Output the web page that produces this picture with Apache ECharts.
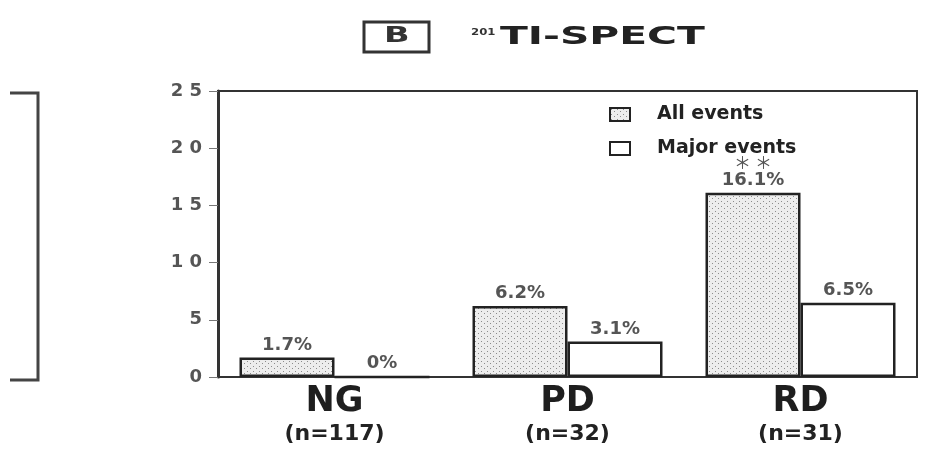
<!DOCTYPE html>
<html><head><meta charset="utf-8">
<script src="https://cdn.jsdelivr.net/npm/echarts@6/dist/echarts.min.js"></script>
<style>html,body{margin:0;padding:0;background:#fff}#c{width:934px;height:452px}</style>
</head><body><div id="c"></div>
<script>
const categories = ['NG', 'PD', 'RD'];
const sampleSizes = ['(n=117)', '(n=32)', '(n=31)'];
const allEvents = [1.7, 6.2, 16.1];
const majorEvents = [0, 3.1, 6.5];
const allLabels = ['1.7%', '6.2%', '16.1%'];
const majorLabels = ['0%', '3.1%', '6.5%'];
const significance = ['', '', '＊ ＊'];
const yTicks = [0, 5, 10, 15, 20, 25];

const pc = document.createElement('canvas');
pc.width = 6; pc.height = 5;
const g = pc.getContext('2d');
g.fillStyle = '#ededed'; g.fillRect(0, 0, 6, 5);
g.fillStyle = '#8c8c8c';
g.fillRect(1, 1, 1, 1); g.fillRect(4, 3, 1, 1);
const dotted = { image: pc, repeat: 'repeat' };

const chart = echarts.init(document.getElementById('c'));
const font = '"DejaVu Sans", Arial, sans-serif';
chart.setOption({
  animation: false,
  textStyle: { fontFamily: font },
  graphic: [
    { type: 'rect', shape: { x: 364, y: 22, width: 65, height: 30 }, style: { fill: 'none', stroke: '#333', lineWidth: 3 } },
    { type: 'text', x: 384, y: 37, scaleX: 1.6, style: { text: 'B', font: 'bold 21px ' + font, fill: '#333', align: 'left', verticalAlign: 'middle' } },
    { type: 'text', x: 471, y: 33, scaleX: 1.3, style: { text: '201', font: 'bold 9px ' + font, fill: '#333', align: 'left', verticalAlign: 'middle' } },
    { type: 'text', x: 500, y: 38, scaleX: 1.7, style: { text: 'TI-SPECT', font: 'bold 24px ' + font, fill: '#222', align: 'left', verticalAlign: 'middle' } },
    { type: 'polyline', shape: { points: [[10, 93], [38, 93], [38, 380], [10, 380]] }, style: { stroke: '#444', lineWidth: 3, fill: 'none' } }
  ],
  legend: {
    orient: 'vertical', left: 604, top: 100, itemGap: 15,
    itemWidth: 20, itemHeight: 13, icon: 'rect',
    textStyle: { fontSize: 19, fontWeight: 'bold', color: '#222', padding: [0, 0, 0, 22] },
    data: ['All events', 'Major events']
  },
  grid: { left: 218, right: 17, top: 91, bottom: 75, show: true, borderColor: '#333', borderWidth: 2 },
  xAxis: {
    type: 'category', data: categories,
    axisLine: { lineStyle: { color: '#333', width: 2 } },
    axisTick: { show: false },
    axisLabel: {
      margin: 8,
      formatter: (v, i) => '{a|' + v + '}\n{b|' + sampleSizes[i] + '}',
      rich: {
        a: { fontSize: 35, fontWeight: 'bold', color: '#1e1e1e', lineHeight: 34 },
        b: { fontSize: 22, fontWeight: 'bold', color: '#222', lineHeight: 30 }
      }
    }
  },
  yAxis: {
    type: 'value', min: 0, max: 25, interval: 5,
    axisLine: { show: true, lineStyle: { color: '#333', width: 3 } },
    axisTick: { show: true, length: 9, lineStyle: { color: '#777', width: 1 } },
    splitLine: { show: false },
    axisLabel: {
      margin: 16, fontSize: 18, fontWeight: 'bold', color: '#555',
      formatter: v => yTicks.includes(v) ? String(v).split('').join(' ') : ''
    }
  },
  series: [
    {
      name: 'All events', type: 'bar', data: allEvents, barWidth: 95, barGap: '0%',
      itemStyle: { color: dotted, borderColor: '#222', borderWidth: 2.5 },
      label: {
        show: true, position: 'top', distance: 3,
        formatter: p => (significance[p.dataIndex] ? '{s|' + significance[p.dataIndex] + '}\n' : '') + '{t|' + allLabels[p.dataIndex] + '}',
        rich: {
          s: { fontSize: 17, color: '#555', lineHeight: 17, fontFamily: '"Noto Sans CJK JP", sans-serif' },
          t: { fontSize: 18, fontWeight: 'bold', color: '#555', lineHeight: 19 }
        }
      }
    },
    {
      name: 'Major events', type: 'bar', data: majorEvents, barWidth: 95,
      itemStyle: { color: '#fff', borderColor: '#222', borderWidth: 2.5 },
      label: {
        show: true, position: 'top', distance: 3,
        formatter: p => majorLabels[p.dataIndex],
        fontSize: 18, fontWeight: 'bold', color: '#555'
      }
    }
  ]
});
</script></body></html>
